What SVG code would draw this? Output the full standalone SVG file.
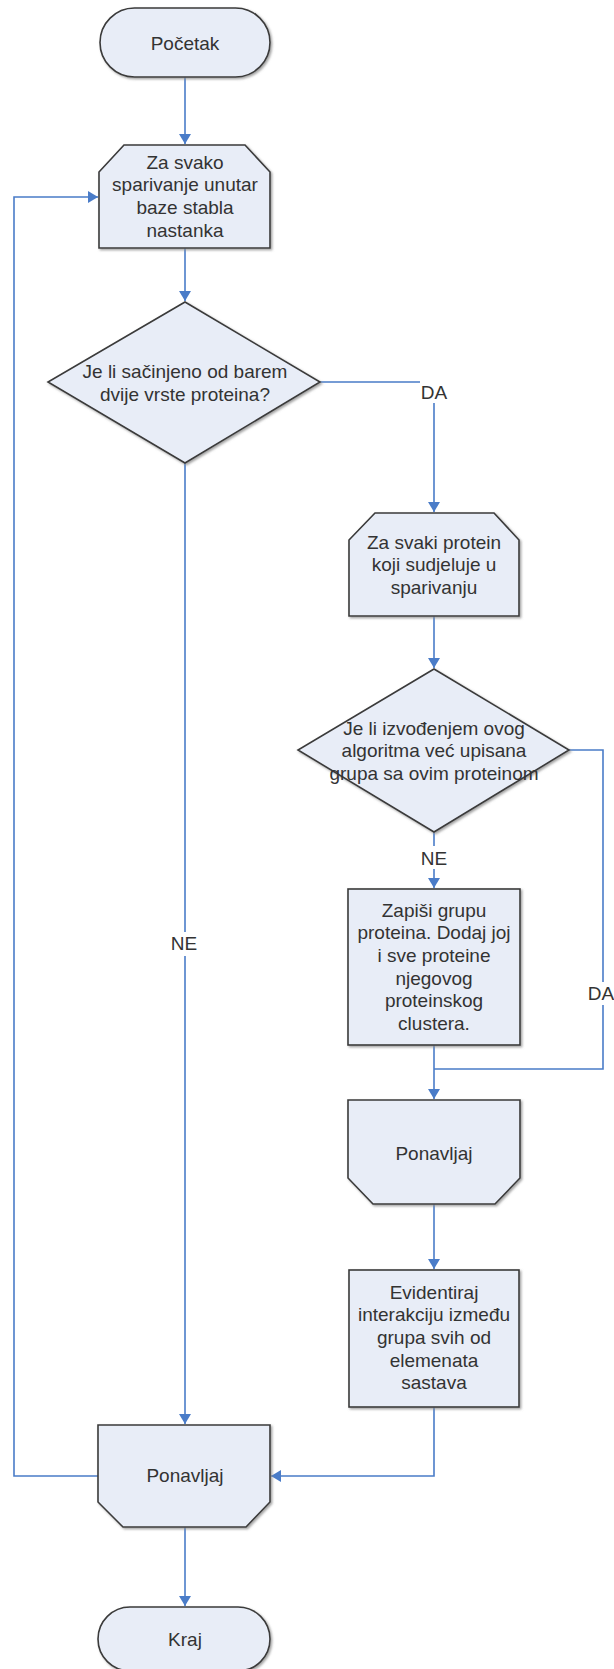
<svg xmlns="http://www.w3.org/2000/svg" width="614" height="1669" viewBox="0 0 614 1669">
<style>
.shape{fill:#E8EDF7;stroke:#3a3a3a;stroke-width:1.6;filter:url(#sh)}
.t{font-family:"Liberation Sans",Arial,sans-serif;font-size:19px;fill:#333;text-anchor:middle}
.c{fill:none;stroke:#4A7CC8;stroke-width:1.6}
.lbg{fill:#fff;stroke:none}
</style>
<defs>
<filter id="sh" x="-10%" y="-10%" width="125%" height="125%">
<feDropShadow dx="1.5" dy="1.5" stdDeviation="0.8" flood-color="#8a8a8a" flood-opacity="0.8"/>
</filter>
<marker id="ah" markerUnits="userSpaceOnUse" markerWidth="12" markerHeight="12" refX="10" refY="6" orient="auto">
<path d="M0,0 L10,6 L0,12 z" fill="#4A7CC8"/>
</marker>
</defs>

<g id="connectors">
<path class="c" d="M185,77 L185,144" marker-end="url(#ah)"/>
<path class="c" d="M185,248 L185,301" marker-end="url(#ah)"/>
<path class="c" d="M320,382 L434,382 L434,512" marker-end="url(#ah)"/>
<path class="c" d="M434,616 L434,668" marker-end="url(#ah)"/>
<path class="c" d="M434,832 L434,888" marker-end="url(#ah)"/>
<path class="c" d="M569,750 L603,750 L603,1069 L434,1069"/>
<path class="c" d="M434,1045 L434,1099" marker-end="url(#ah)"/>
<path class="c" d="M434,1204 L434,1269" marker-end="url(#ah)"/>
<path class="c" d="M434,1407 L434,1476 L271,1476" marker-end="url(#ah)"/>
<path class="c" d="M185,463 L185,1424" marker-end="url(#ah)"/>
<path class="c" d="M98,1476 L14,1476 L14,197 L98,197" marker-end="url(#ah)"/>
<path class="c" d="M185,1527 L185,1606" marker-end="url(#ah)"/>
<rect class="lbg" x="420" y="380" width="28" height="23"/>
<text class="t" x="434" y="399">DA</text>
<rect class="lbg" x="420" y="846" width="28" height="23"/>
<text class="t" x="434" y="864.5">NE</text>
<rect class="lbg" x="588" y="982" width="26" height="23"/>
<text class="t" x="601" y="999.5">DA</text>
<rect class="lbg" x="170" y="932" width="28" height="24"/>
<text class="t" x="184" y="949.5">NE</text>
</g>

<g id="pocetak">
<rect class="shape" x="100" y="8" width="170" height="69" rx="34.5"/>
<text class="t" x="185" y="49.5">Početak</text>
</g>

<g id="petlja1">
<polygon class="shape" points="99,172 124,145 245,145 270,172 270,248 99,248"/>
<text class="t" x="185" y="168.5">Za svako</text>
<text class="t" x="185" y="191.2">sparivanje unutar</text>
<text class="t" x="185" y="213.9">baze stabla</text>
<text class="t" x="185" y="236.6">nastanka</text>
</g>

<g id="uvjet1">
<polygon class="shape" points="185,302 320,382 185,463 48,382"/>
<text class="t" x="185" y="378">Je li sačinjeno od barem</text>
<text class="t" x="185" y="401">dvije vrste proteina?</text>
</g>

<g id="petlja2">
<polygon class="shape" points="349,540 375,513 494,513 519,540 519,616 349,616"/>
<text class="t" x="434" y="548.5">Za svaki protein</text>
<text class="t" x="434" y="571.2">koji sudjeluje u</text>
<text class="t" x="434" y="593.9">sparivanju</text>
</g>

<g id="uvjet2">
<polygon class="shape" points="434,669 569,750 434,832 298,750"/>
<text class="t" x="434" y="734.5">Je li izvođenjem ovog</text>
<text class="t" x="434" y="757.2">algoritma već upisana</text>
<text class="t" x="434" y="779.9">grupa sa ovim proteinom</text>
</g>

<g id="zapisi">
<rect class="shape" x="348" y="889" width="172" height="156"/>
<text class="t" x="434" y="916.5">Zapiši grupu</text>
<text class="t" x="434" y="939.2">proteina. Dodaj joj</text>
<text class="t" x="434" y="961.9">i sve proteine</text>
<text class="t" x="434" y="984.6">njegovog</text>
<text class="t" x="434" y="1007.3">proteinskog</text>
<text class="t" x="434" y="1030">clustera.</text>
</g>

<g id="ponavljaj2">
<polygon class="shape" points="348,1100 520,1100 520,1178 495,1204 373,1204 348,1178"/>
<text class="t" x="434" y="1159.5">Ponavljaj</text>
</g>

<g id="evidentiraj">
<rect class="shape" x="349" y="1270" width="170" height="137"/>
<text class="t" x="434" y="1298.5">Evidentiraj</text>
<text class="t" x="434" y="1321.2">interakciju između</text>
<text class="t" x="434" y="1343.9">grupa svih od</text>
<text class="t" x="434" y="1366.6">elemenata</text>
<text class="t" x="434" y="1389.3">sastava</text>
</g>

<g id="ponavljaj1">
<polygon class="shape" points="98,1425 270,1425 270,1502 246,1527 123,1527 98,1502"/>
<text class="t" x="185" y="1481.5">Ponavljaj</text>
</g>

<g id="kraj">
<rect class="shape" x="98" y="1607" width="172" height="64" rx="32"/>
<text class="t" x="185" y="1645.5">Kraj</text>
</g>
</svg>
